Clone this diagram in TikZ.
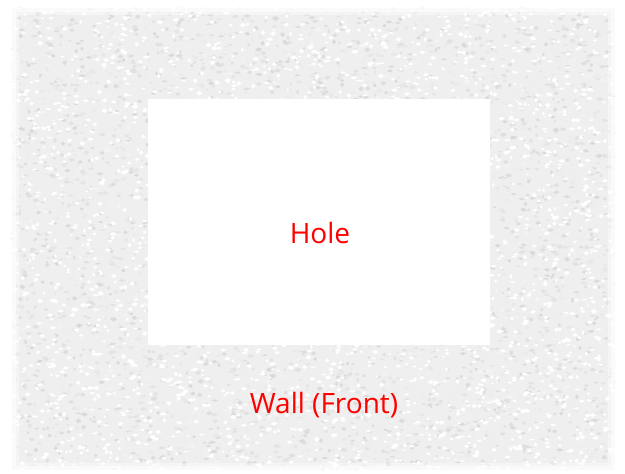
\documentclass[tikz,border=0pt]{standalone}
\usepackage{fontspec}
\setmainfont{Open Sans}
\definecolor{wallbase}{HTML}{EFEFEF}
\definecolor{labelred}{HTML}{FF0000}
\tikzset{
  speck/.style={draw=none},
  holebox/.style={fill=white, draw=none, inner sep=0pt, minimum width=342pt, minimum height=246pt},
  lbl/.style={text=labelred, font=\fontsize{28}{33}\selectfont, inner sep=0pt}
}
\begin{document}
\begin{tikzpicture}[x=1pt,y=-1pt]
\useasboundingbox (0,0) rectangle (625,474);
\fill[white] (0,0) rectangle (625,474);
% wall
\fill[wallbase] (12,8) rectangle (615,470);
\pgfmathsetseed{4217}
\foreach \i in {1,...,5000}{
  \pgfmathsetmacro\xx{12+603*rnd}
  \pgfmathsetmacro\yy{8+462*rnd}
  \pgfmathsetmacro\g{4+11*rnd}
  \pgfmathsetmacro\ra{1.3+2.4*rnd}
  \pgfmathsetmacro\rb{0.8+1.6*rnd}
  \pgfmathsetmacro\sk{1.6*rnd-0.8}
  \fill[speck, black!\g] (\xx-\ra,\yy+\sk) -- (\xx-\sk,\yy-\rb) -- (\xx+\ra,\yy-\sk) -- (\xx+\sk,\yy+\rb) -- cycle;
}
\foreach \i in {1,...,2500}{
  \pgfmathsetmacro\xx{12+603*rnd}
  \pgfmathsetmacro\yy{8+462*rnd}
  \pgfmathsetmacro\ra{1.3+2.2*rnd}
  \pgfmathsetmacro\rb{0.8+1.5*rnd}
  \pgfmathsetmacro\sk{1.6*rnd-0.8}
  \fill[speck, white] (\xx-\ra,\yy+\sk) -- (\xx-\sk,\yy-\rb) -- (\xx+\ra,\yy-\sk) -- (\xx+\sk,\yy+\rb) -- cycle;
}
% soft edges
\draw[white, opacity=0.6, line width=8pt] (12,8) rectangle (615,470);
\draw[white, opacity=0.4, line width=14pt] (12,8) rectangle (615,470);
% hole
\node[holebox] (hole) at (319,222) {};
\node[lbl] (holelabel) at (320,233) {Hole};
\node[lbl] (walllabel) at (324,405) {Wall (Front)};
\end{tikzpicture}
\end{document}
